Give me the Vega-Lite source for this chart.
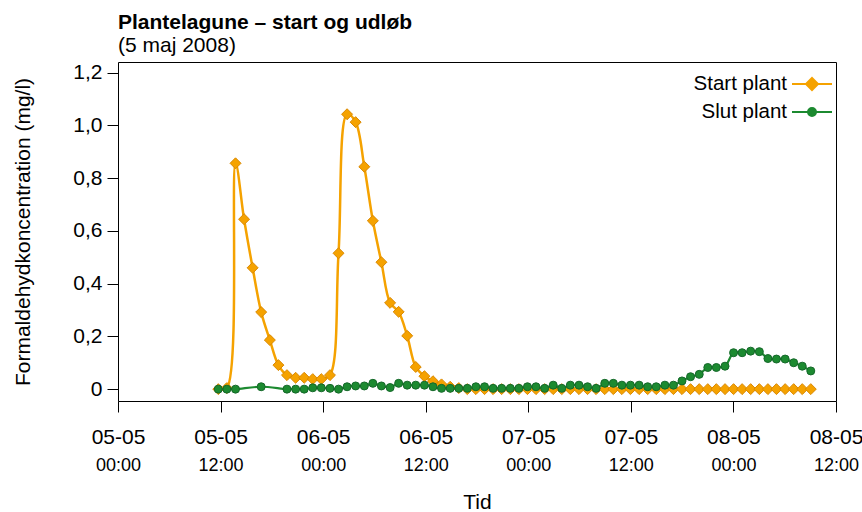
{
  "$schema": "https://vega.github.io/schema/vega-lite/v6.json",
  "width": 718,
  "height": 339,
  "autosize": "none",
  "padding": {"left": 118, "top": 62, "right": 26, "bottom": 111},
  "config": {
    "font": "Liberation Sans",
    "view": {"stroke": "black", "strokeWidth": 1},
    "axis": {"labelColor": "black", "titleColor": "black", "tickColor": "black", "domain": false, "grid": false, "labelFont": "Liberation Sans", "titleFont": "Liberation Sans", "titleFontWeight": "normal"}
  },
  "title": {
    "text": "Plantelagune – start og udløb",
    "subtitle": "(5 maj 2008)",
    "anchor": "start",
    "frame": "group",
    "fontSize": 21,
    "fontWeight": "bold",
    "subtitleFontSize": 21,
    "color": "black",
    "subtitleColor": "black",
    "font": "Liberation Sans",
    "subtitleFont": "Liberation Sans",
    "offset": 6,
    "subtitlePadding": 2
  },
  "data": {
    "values": [
      {"tid": "2008-05-05T11:44", "serie": "Start plant", "konc": 0},
      {"tid": "2008-05-05T12:44", "serie": "Start plant", "konc": 0.004},
      {"tid": "2008-05-05T13:45", "serie": "Start plant", "konc": 0.856},
      {"tid": "2008-05-05T14:45", "serie": "Start plant", "konc": 0.644},
      {"tid": "2008-05-05T15:45", "serie": "Start plant", "konc": 0.46},
      {"tid": "2008-05-05T16:45", "serie": "Start plant", "konc": 0.292},
      {"tid": "2008-05-05T17:46", "serie": "Start plant", "konc": 0.186},
      {"tid": "2008-05-05T18:46", "serie": "Start plant", "konc": 0.091},
      {"tid": "2008-05-05T19:46", "serie": "Start plant", "konc": 0.053},
      {"tid": "2008-05-05T20:47", "serie": "Start plant", "konc": 0.043},
      {"tid": "2008-05-05T21:47", "serie": "Start plant", "konc": 0.043},
      {"tid": "2008-05-05T22:47", "serie": "Start plant", "konc": 0.038},
      {"tid": "2008-05-05T23:47", "serie": "Start plant", "konc": 0.038},
      {"tid": "2008-05-06T00:48", "serie": "Start plant", "konc": 0.053},
      {"tid": "2008-05-06T01:48", "serie": "Start plant", "konc": 0.515},
      {"tid": "2008-05-06T02:48", "serie": "Start plant", "konc": 1.042},
      {"tid": "2008-05-06T03:48", "serie": "Start plant", "konc": 1.012},
      {"tid": "2008-05-06T04:49", "serie": "Start plant", "konc": 0.843},
      {"tid": "2008-05-06T05:49", "serie": "Start plant", "konc": 0.638},
      {"tid": "2008-05-06T06:49", "serie": "Start plant", "konc": 0.481},
      {"tid": "2008-05-06T07:50", "serie": "Start plant", "konc": 0.327},
      {"tid": "2008-05-06T08:50", "serie": "Start plant", "konc": 0.293},
      {"tid": "2008-05-06T09:50", "serie": "Start plant", "konc": 0.202},
      {"tid": "2008-05-06T10:50", "serie": "Start plant", "konc": 0.084},
      {"tid": "2008-05-06T11:51", "serie": "Start plant", "konc": 0.049},
      {"tid": "2008-05-06T12:51", "serie": "Start plant", "konc": 0.03},
      {"tid": "2008-05-06T13:51", "serie": "Start plant", "konc": 0.018},
      {"tid": "2008-05-06T14:52", "serie": "Start plant", "konc": 0.009},
      {"tid": "2008-05-06T15:52", "serie": "Start plant", "konc": 0.004},
      {"tid": "2008-05-06T16:52", "serie": "Start plant", "konc": 0},
      {"tid": "2008-05-06T17:52", "serie": "Start plant", "konc": 0},
      {"tid": "2008-05-06T18:53", "serie": "Start plant", "konc": 0},
      {"tid": "2008-05-06T19:53", "serie": "Start plant", "konc": 0},
      {"tid": "2008-05-06T20:53", "serie": "Start plant", "konc": 0},
      {"tid": "2008-05-06T21:54", "serie": "Start plant", "konc": 0},
      {"tid": "2008-05-06T22:54", "serie": "Start plant", "konc": 0},
      {"tid": "2008-05-06T23:54", "serie": "Start plant", "konc": 0},
      {"tid": "2008-05-07T00:54", "serie": "Start plant", "konc": 0},
      {"tid": "2008-05-07T01:55", "serie": "Start plant", "konc": 0},
      {"tid": "2008-05-07T02:55", "serie": "Start plant", "konc": 0},
      {"tid": "2008-05-07T03:55", "serie": "Start plant", "konc": 0},
      {"tid": "2008-05-07T04:55", "serie": "Start plant", "konc": 0},
      {"tid": "2008-05-07T05:56", "serie": "Start plant", "konc": 0},
      {"tid": "2008-05-07T06:56", "serie": "Start plant", "konc": 0},
      {"tid": "2008-05-07T07:56", "serie": "Start plant", "konc": 0},
      {"tid": "2008-05-07T08:57", "serie": "Start plant", "konc": 0},
      {"tid": "2008-05-07T09:57", "serie": "Start plant", "konc": 0},
      {"tid": "2008-05-07T10:57", "serie": "Start plant", "konc": 0},
      {"tid": "2008-05-07T11:57", "serie": "Start plant", "konc": 0},
      {"tid": "2008-05-07T12:58", "serie": "Start plant", "konc": 0},
      {"tid": "2008-05-07T13:58", "serie": "Start plant", "konc": 0},
      {"tid": "2008-05-07T14:58", "serie": "Start plant", "konc": 0},
      {"tid": "2008-05-07T15:59", "serie": "Start plant", "konc": 0},
      {"tid": "2008-05-07T16:59", "serie": "Start plant", "konc": 0},
      {"tid": "2008-05-07T17:59", "serie": "Start plant", "konc": 0},
      {"tid": "2008-05-07T18:59", "serie": "Start plant", "konc": 0},
      {"tid": "2008-05-07T20:00", "serie": "Start plant", "konc": 0},
      {"tid": "2008-05-07T21:00", "serie": "Start plant", "konc": 0},
      {"tid": "2008-05-07T22:00", "serie": "Start plant", "konc": 0},
      {"tid": "2008-05-07T23:01", "serie": "Start plant", "konc": 0},
      {"tid": "2008-05-08T00:01", "serie": "Start plant", "konc": 0},
      {"tid": "2008-05-08T01:01", "serie": "Start plant", "konc": 0},
      {"tid": "2008-05-08T02:01", "serie": "Start plant", "konc": 0},
      {"tid": "2008-05-08T03:02", "serie": "Start plant", "konc": 0},
      {"tid": "2008-05-08T04:02", "serie": "Start plant", "konc": 0},
      {"tid": "2008-05-08T05:02", "serie": "Start plant", "konc": 0},
      {"tid": "2008-05-08T06:03", "serie": "Start plant", "konc": 0},
      {"tid": "2008-05-08T07:03", "serie": "Start plant", "konc": 0},
      {"tid": "2008-05-08T08:03", "serie": "Start plant", "konc": 0},
      {"tid": "2008-05-08T09:03", "serie": "Start plant", "konc": 0},
      {"tid": "2008-05-05T11:44", "serie": "Slut plant", "konc": 0},
      {"tid": "2008-05-05T12:44", "serie": "Slut plant", "konc": 0},
      {"tid": "2008-05-05T13:45", "serie": "Slut plant", "konc": 0},
      {"tid": "2008-05-05T16:45", "serie": "Slut plant", "konc": 0.009},
      {"tid": "2008-05-05T19:46", "serie": "Slut plant", "konc": 0},
      {"tid": "2008-05-05T20:47", "serie": "Slut plant", "konc": 0},
      {"tid": "2008-05-05T21:47", "serie": "Slut plant", "konc": 0},
      {"tid": "2008-05-05T22:47", "serie": "Slut plant", "konc": 0.005},
      {"tid": "2008-05-05T23:47", "serie": "Slut plant", "konc": 0.005},
      {"tid": "2008-05-06T00:48", "serie": "Slut plant", "konc": 0.003},
      {"tid": "2008-05-06T01:48", "serie": "Slut plant", "konc": 0},
      {"tid": "2008-05-06T02:48", "serie": "Slut plant", "konc": 0.009},
      {"tid": "2008-05-06T03:48", "serie": "Slut plant", "konc": 0.012},
      {"tid": "2008-05-06T04:49", "serie": "Slut plant", "konc": 0.012},
      {"tid": "2008-05-06T05:49", "serie": "Slut plant", "konc": 0.022},
      {"tid": "2008-05-06T06:49", "serie": "Slut plant", "konc": 0.012},
      {"tid": "2008-05-06T07:50", "serie": "Slut plant", "konc": 0.006},
      {"tid": "2008-05-06T08:50", "serie": "Slut plant", "konc": 0.022},
      {"tid": "2008-05-06T09:50", "serie": "Slut plant", "konc": 0.015},
      {"tid": "2008-05-06T10:50", "serie": "Slut plant", "konc": 0.015},
      {"tid": "2008-05-06T11:51", "serie": "Slut plant", "konc": 0.015},
      {"tid": "2008-05-06T12:51", "serie": "Slut plant", "konc": 0.009},
      {"tid": "2008-05-06T13:51", "serie": "Slut plant", "konc": 0.003},
      {"tid": "2008-05-06T14:52", "serie": "Slut plant", "konc": 0.003},
      {"tid": "2008-05-06T15:52", "serie": "Slut plant", "konc": 0.003},
      {"tid": "2008-05-06T16:52", "serie": "Slut plant", "konc": 0.003},
      {"tid": "2008-05-06T17:52", "serie": "Slut plant", "konc": 0.009},
      {"tid": "2008-05-06T18:53", "serie": "Slut plant", "konc": 0.009},
      {"tid": "2008-05-06T19:53", "serie": "Slut plant", "konc": 0.003},
      {"tid": "2008-05-06T20:53", "serie": "Slut plant", "konc": 0.003},
      {"tid": "2008-05-06T21:54", "serie": "Slut plant", "konc": 0.003},
      {"tid": "2008-05-06T22:54", "serie": "Slut plant", "konc": 0.003},
      {"tid": "2008-05-06T23:54", "serie": "Slut plant", "konc": 0.009},
      {"tid": "2008-05-07T00:54", "serie": "Slut plant", "konc": 0.009},
      {"tid": "2008-05-07T01:55", "serie": "Slut plant", "konc": 0.003},
      {"tid": "2008-05-07T02:55", "serie": "Slut plant", "konc": 0.015},
      {"tid": "2008-05-07T03:55", "serie": "Slut plant", "konc": 0.003},
      {"tid": "2008-05-07T04:55", "serie": "Slut plant", "konc": 0.015},
      {"tid": "2008-05-07T05:56", "serie": "Slut plant", "konc": 0.015},
      {"tid": "2008-05-07T06:56", "serie": "Slut plant", "konc": 0.009},
      {"tid": "2008-05-07T07:56", "serie": "Slut plant", "konc": 0.003},
      {"tid": "2008-05-07T08:57", "serie": "Slut plant", "konc": 0.022},
      {"tid": "2008-05-07T09:57", "serie": "Slut plant", "konc": 0.022},
      {"tid": "2008-05-07T10:57", "serie": "Slut plant", "konc": 0.015},
      {"tid": "2008-05-07T11:57", "serie": "Slut plant", "konc": 0.015},
      {"tid": "2008-05-07T12:58", "serie": "Slut plant", "konc": 0.015},
      {"tid": "2008-05-07T13:58", "serie": "Slut plant", "konc": 0.009},
      {"tid": "2008-05-07T14:58", "serie": "Slut plant", "konc": 0.009},
      {"tid": "2008-05-07T15:59", "serie": "Slut plant", "konc": 0.015},
      {"tid": "2008-05-07T16:59", "serie": "Slut plant", "konc": 0.015},
      {"tid": "2008-05-07T17:59", "serie": "Slut plant", "konc": 0.031},
      {"tid": "2008-05-07T18:59", "serie": "Slut plant", "konc": 0.047},
      {"tid": "2008-05-07T20:00", "serie": "Slut plant", "konc": 0.056},
      {"tid": "2008-05-07T21:00", "serie": "Slut plant", "konc": 0.082},
      {"tid": "2008-05-07T22:00", "serie": "Slut plant", "konc": 0.082},
      {"tid": "2008-05-07T23:01", "serie": "Slut plant", "konc": 0.087},
      {"tid": "2008-05-08T00:01", "serie": "Slut plant", "konc": 0.138},
      {"tid": "2008-05-08T01:01", "serie": "Slut plant", "konc": 0.138},
      {"tid": "2008-05-08T02:01", "serie": "Slut plant", "konc": 0.144},
      {"tid": "2008-05-08T03:02", "serie": "Slut plant", "konc": 0.142},
      {"tid": "2008-05-08T04:02", "serie": "Slut plant", "konc": 0.116},
      {"tid": "2008-05-08T05:02", "serie": "Slut plant", "konc": 0.114},
      {"tid": "2008-05-08T06:03", "serie": "Slut plant", "konc": 0.114},
      {"tid": "2008-05-08T07:03", "serie": "Slut plant", "konc": 0.1},
      {"tid": "2008-05-08T08:03", "serie": "Slut plant", "konc": 0.087},
      {"tid": "2008-05-08T09:03", "serie": "Slut plant", "konc": 0.069}
    ]
  },
  "layer": [
    {
      "transform": [{"filter": "datum.serie === 'Start plant'"}],
      "mark": {"type": "line", "interpolate": "catmull-rom", "strokeWidth": 2.5, "point": {"shape": "diamond", "filled": true, "size": 120, "stroke": "#DA8800", "strokeWidth": 1, "opacity": 1}},
      "encoding": {
        "x": {
          "field": "tid", "type": "temporal",
          "scale": {"domain": [{"year": 2008, "month": 5, "date": 5, "hours": 0}, {"year": 2008, "month": 5, "date": 8, "hours": 12}]},
          "axis": {
            "orient": "bottom",
            "values": [{"year": 2008, "month": 5, "date": 5, "hours": 0}, {"year": 2008, "month": 5, "date": 5, "hours": 12}, {"year": 2008, "month": 5, "date": 6, "hours": 0}, {"year": 2008, "month": 5, "date": 6, "hours": 12}, {"year": 2008, "month": 5, "date": 7, "hours": 0}, {"year": 2008, "month": 5, "date": 7, "hours": 12}, {"year": 2008, "month": 5, "date": 8, "hours": 0}, {"year": 2008, "month": 5, "date": 8, "hours": 12}],
            "labelExpr": "timeFormat(datum.value, '%d-%m')",
            "labelFontSize": 21, "tickSize": 11, "labelPadding": 14, "title": null,
            "labelFlush": false, "labelOverlap": false, "labelBound": false
          }
        },
        "y": {
          "field": "konc", "type": "quantitative",
          "scale": {"domain": [-0.045, 1.24], "nice": false, "zero": false},
          "axis": {
            "values": [0, 0.2, 0.4, 0.6, 0.8, 1, 1.2],
            "labelExpr": "datum.value == 0 ? '0' : replace(format(datum.value, '.1f'), '.', ',')",
            "labelFontSize": 21, "tickSize": 11, "labelPadding": 5,
            "title": "Formaldehydkoncentration (mg/l)", "titleFontSize": 21, "titlePadding": 39
          }
        },
        "color": {
          "field": "serie", "type": "nominal",
          "scale": {"domain": ["Start plant", "Slut plant"], "range": ["#F5A200", "#1C8A30"]},
          "legend": {
            "orient": "none", "legendX": 683, "legendY": 11, "title": null, "padding": 0,
            "labelFontSize": 20.5, "labelAlign": "right", "labelOffset": -36, "labelColor": "black",
            "symbolSize": 400, "symbolStrokeWidth": 2, "rowPadding": 6,
            "encode": {
              "symbols": {
                "update": {
                  "shape": {"signal": "datum.value === 'Start plant' ? 'M-2,0L2,0M0,-0.6L0.6,0L0,0.6L-0.6,0Z' : 'M-2,0L2,0M-0.4,0A0.4,0.4,0,1,0,0.4,0A0.4,0.4,0,1,0,-0.4,0Z'"},
                  "fill": {"signal": "datum.value === 'Start plant' ? '#F5A200' : '#1C8A30'"},
                  "stroke": {"signal": "datum.value === 'Start plant' ? '#F5A200' : '#17702A'"},
                  "strokeWidth": {"value": 2},
                  "opacity": {"value": 1}
                }
              }
            }
          }
        }
      }
    },
    {
      "transform": [{"filter": "datum.serie === 'Slut plant'"}],
      "mark": {"type": "line", "interpolate": "catmull-rom", "strokeWidth": 2.2, "point": {"shape": "circle", "filled": true, "size": 64, "stroke": "#15682A", "strokeWidth": 1, "opacity": 1}},
      "encoding": {
        "x": {
          "field": "tid", "type": "temporal",
          "scale": {"domain": [{"year": 2008, "month": 5, "date": 5, "hours": 0}, {"year": 2008, "month": 5, "date": 8, "hours": 12}]},
          "axis": {
            "orient": "bottom",
            "values": [{"year": 2008, "month": 5, "date": 5, "hours": 0}, {"year": 2008, "month": 5, "date": 5, "hours": 12}, {"year": 2008, "month": 5, "date": 6, "hours": 0}, {"year": 2008, "month": 5, "date": 6, "hours": 12}, {"year": 2008, "month": 5, "date": 7, "hours": 0}, {"year": 2008, "month": 5, "date": 7, "hours": 12}, {"year": 2008, "month": 5, "date": 8, "hours": 0}, {"year": 2008, "month": 5, "date": 8, "hours": 12}],
            "labelExpr": "timeFormat(datum.value, '%H:%M')",
            "labelFontSize": 18, "ticks": false, "domain": false, "labelPadding": 55,
            "title": "Tid", "titleFontSize": 21, "titlePadding": 17,
            "labelFlush": false, "labelOverlap": false, "labelBound": false
          }
        },
        "y": {
          "field": "konc", "type": "quantitative",
          "scale": {"domain": [-0.045, 1.24], "nice": false, "zero": false},
          "axis": {
            "values": [0, 0.2, 0.4, 0.6, 0.8, 1, 1.2],
            "labelExpr": "datum.value == 0 ? '0' : replace(format(datum.value, '.1f'), '.', ',')",
            "labelFontSize": 21, "tickSize": 11, "labelPadding": 5,
            "title": "Formaldehydkoncentration (mg/l)", "titleFontSize": 21, "titlePadding": 39
          }
        },
        "color": {"field": "serie", "type": "nominal", "scale": {"domain": ["Start plant", "Slut plant"], "range": ["#F5A200", "#1C8A30"]}}
      }
    }
  ],
  "resolve": {"axis": {"x": "independent"}}
}
